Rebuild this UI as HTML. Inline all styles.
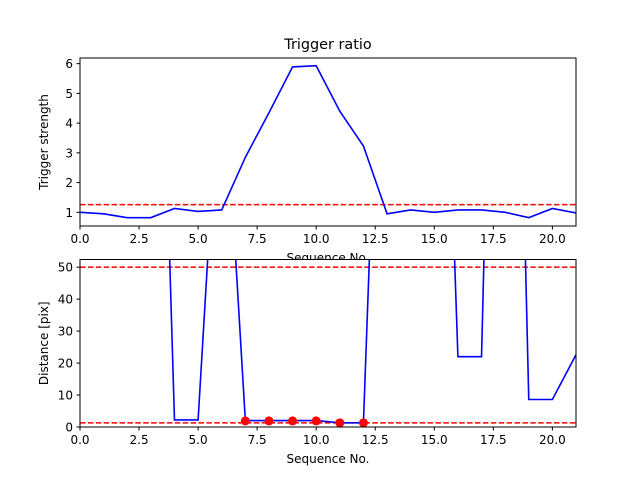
<!DOCTYPE html>
<html><head><meta charset="utf-8"><style>
body{margin:0;background:#fff}
svg text{font-family:"DejaVu Sans","Liberation Sans",sans-serif;font-size:12px;fill:#000}
</style></head><body>
<svg id="c" width="640" height="480" xmlns="http://www.w3.org/2000/svg"></svg>
<script>
const xVals=[0,1,2,3,4,5,6,7,8,9,10,11,12,13,14,15,16,17,18,19,20,21];
const ratio=[1.0,0.95,0.82,0.82,1.13,1.03,1.08,2.85,4.35,5.89,5.93,4.4,3.23,0.95,1.08,1.0,1.08,1.08,1.0,0.82,1.13,0.98];
const ratioThreshold=1.26;
const dist=[250,250,250,250,2.2,2.2,126,2.0,2.0,2.0,2.0,1.3,1.3,205,250,239,22,22,320,8.6,8.6,22.6];
const matchIdx=[7,8,9,10,11,12];
const matchVals=[1.9,1.9,1.9,1.9,1.3,1.3];
const distThresholds=[50,1.3];
const xTicks=[0,2.5,5,7.5,10,12.5,15,17.5,20];
const xTickLabels=["0.0","2.5","5.0","7.5","10.0","12.5","15.0","17.5","20.0"];
const topYTicks=[1,2,3,4,5,6];
const botYTicks=[0,10,20,30,40,50];

const svg=document.getElementById('c');
const NS='http://www.w3.org/2000/svg';
function el(t,a,p){const e=document.createElementNS(NS,t);for(const k in a)e.setAttribute(k,a[k]);(p||svg).appendChild(e);return e;}
const L=80,R=576;
const xs=v=>L+(v-0)/(21-0)*(R-L);
function panel(top,bot,ymin,ymax,name){
  const ys=v=>bot-(v-ymin)/(ymax-ymin)*(bot-top);
  const g=el('g',{});
  
  
  el('rect',{x:L,y:top,width:R-L,height:bot-top,fill:'#fff'},g);
  const cp='clip'+name;
  const cl=el('clipPath',{id:cp},g);el('rect',{x:L,y:top,width:R-L,height:bot-top},cl);
  const inner=el('g',{'clip-path':'url(#'+cp+')'},g);
  return {g,inner,ys,top,bot};
}
function axes(p,yt,ylab){
  const {g,ys,top,bot}=p;
  el('rect',{x:L,y:top,width:R-L,height:bot-top,fill:'none',stroke:'#000','stroke-width':1},g);
  xTicks.forEach((v,i)=>{
    el('line',{x1:xs(v),x2:xs(v),y1:bot,y2:bot+3.5,stroke:'#000'},g);
    const t=el('text',{x:xs(v),y:bot+17,'text-anchor':'middle'},g);t.textContent=xTickLabels[i];
    
    
  });
  yt.forEach(v=>{
    el('line',{x1:L-3.5,x2:L,y1:ys(v),y2:ys(v),stroke:'#000'},g);
    const t=el('text',{x:L-7,y:ys(v)+4.5,'text-anchor':'end'},g);t.textContent=String(v);
    
    
  });
  const yl=el('text',{x:0,y:0,'text-anchor':'middle',transform:`translate(${L-32},${(top+bot)/2}) rotate(-90)`},g);
  yl.textContent=ylab;
  
  
  const xl=el('text',{x:(L+R)/2,y:bot+36,'text-anchor':'middle'},g);
  xl.textContent='Sequence No.';
  
  
}
const p1=panel(58,226,0.54,6.19,'trigger-panel');
const tt=el('text',{x:(L+R)/2,y:49,'text-anchor':'middle',style:'font-size:14.4px'},p1.g);
tt.textContent='Trigger ratio';


const th=el('line',{x1:L,x2:R,y1:p1.ys(ratioThreshold),y2:p1.ys(ratioThreshold),stroke:'#f00','stroke-width':1.5,'stroke-dasharray':'5.5,2.4'},p1.inner);


const l1=el('polyline',{points:xVals.map((x,i)=>xs(x)+','+p1.ys(ratio[i])).join(' '),fill:'none',stroke:'#00f','stroke-width':1.6},p1.inner);


axes(p1,topYTicks,'Trigger strength');
const p2=panel(259.5,427,0,52.4,'distance-panel');
distThresholds.forEach(v=>{
  const d=el('line',{x1:L,x2:R,y1:p2.ys(v),y2:p2.ys(v),stroke:'#f00','stroke-width':1.5,'stroke-dasharray':'5.5,2.4'},p2.inner);
  
  
});
const l2=el('polyline',{points:xVals.map((x,i)=>xs(x)+','+p2.ys(dist[i])).join(' '),fill:'none',stroke:'#00f','stroke-width':1.6},p2.inner);


matchIdx.forEach((x,i)=>{
  const c=el('circle',{cx:xs(x),cy:p2.ys(matchVals[i]),r:4.5,fill:'#f00'},svg);
  
  
});
axes(p2,botYTicks,'Distance [pix]');
el('rect',{x:L,y:259.5,width:R-L,height:167.5,fill:'none',stroke:'#000'});
</script>
</body></html>
